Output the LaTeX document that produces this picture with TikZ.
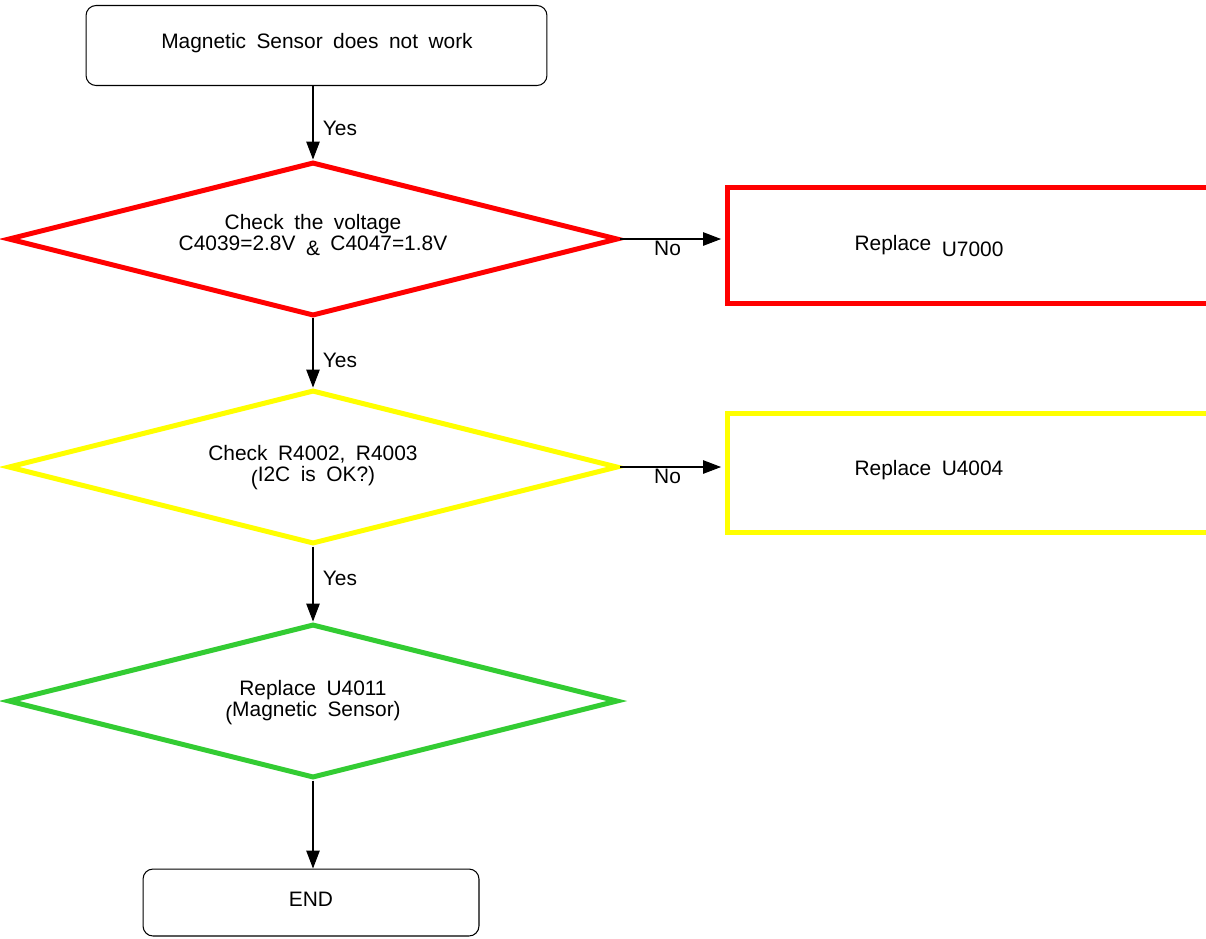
\documentclass[tikz,border=0pt]{standalone}
\usepackage{fontspec}
\setmainfont{Liberation Sans}[WordSpace=1.8]
\usetikzlibrary{shapes.geometric,arrows.meta,positioning}
\definecolor{fcred}{RGB}{255,0,0}
\definecolor{fcyellow}{RGB}{255,255,0}
\definecolor{fcgreen}{RGB}{51,204,51}
\tikzset
{
    termbox/.style  = {rectangle, rounded corners=0.2cm, draw=black, line width=0.6pt, inner sep=0pt},
    checkbox/.style = {diamond, line width=0.1cm, inner sep=0pt, minimum width=12.2cm, minimum height=3.08cm},
    fixbox/.style   = {rectangle, line width=0.1cm, inner sep=0pt},
    flow/.style     = {->, line width=0.6pt},
    yeslabel/.style = {right, xshift=2pt},
    nolabel/.style  = {below, inner sep=1pt}
}

\begin{document}
\begin{tikzpicture}[x=0.02cm, y=-0.02cm, font=\fontsize{11.9}{12}\selectfont, >={Triangle[length=0.36cm,width=0.27cm]}]
\useasboundingbox (0,0) rectangle (1206,938);
% start and end
\node [termbox, minimum width=9.22cm, minimum height=1.6cm] at (316.5,45.5) (start) {};
\node at (317,43) (starttext) {Magnetic Sensor does not work};
\node [termbox, minimum width=6.72cm, minimum height=1.34cm] at (311,902.5) (end) {};
\node at (311,899) (endtext) {END};
% checks
\node [checkbox, draw=fcred] at (313,239) (volt) {};
\node [align=center] at (313,235) (volttext) {Check the voltage\\C4039=2.8V \raisebox{-0.1cm}{\&} C4047=1.8V};
\node [checkbox, draw=fcyellow] at (313,467) (itwoc) {};
\node [align=center] at (313,468) (itwoctext) {Check R4002, R4003\\\raisebox{-0.08cm}{(}I2C is OK?)};
\node [checkbox, draw=fcgreen] at (313,701) (sensor) {};
\node [align=center] at (313,703) (sensortext) {Replace U4011\\\raisebox{-0.08cm}{(}Magnetic Sensor)};
% fixes
\node [fixbox, draw=fcred, minimum width=10.3cm, minimum height=2.32cm] at (985,245) (useven) {};
\node at (929,246) (useventext) {\raisebox{0.06cm}{Replace} \raisebox{-0.06cm}{U7000}};
\node [fixbox, draw=fcyellow, minimum width=10.3cm, minimum height=2.38cm] at (985,472.5) (ufour) {};
\node at (929,470) (ufourtext) {Replace U4004};
% connectors
\draw [flow] (start.south -| volt.north) -- node[yeslabel, pos=0.58] {Yes} (volt.north);
\draw [flow] (volt.south) -- node[yeslabel, pos=0.6] {Yes} (itwoc.north);
\draw [flow] (itwoc.south) -- node[yeslabel, pos=0.43] {Yes} (sensor.north);
\draw [flow] (sensor.south) -- (sensor.south |- end.north);
\draw [flow, shorten >=0.08cm] (volt.east) -- node[nolabel, pos=0.45] {No} (useven.west |- volt.east);
\draw [flow, shorten >=0.08cm] (itwoc.east) -- node[nolabel, pos=0.45] {No} (ufour.west |- itwoc.east);
\end{tikzpicture}
\end{document}
